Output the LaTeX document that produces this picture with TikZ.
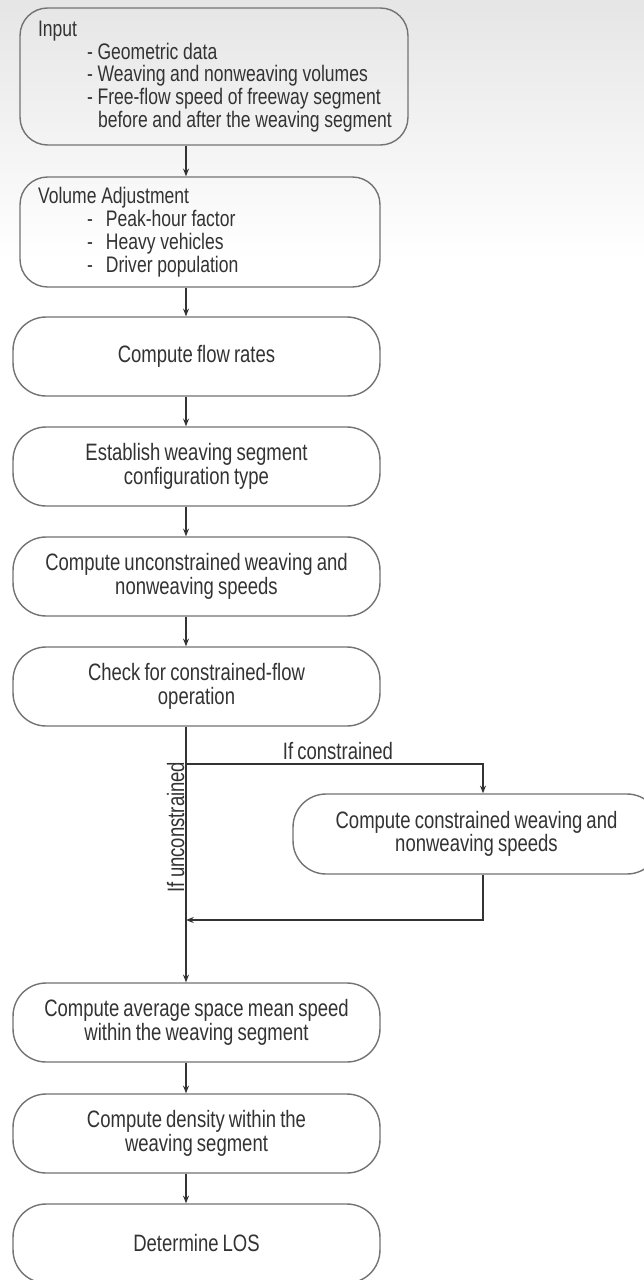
\documentclass[tikz,border=0pt]{standalone}
\usepackage{fontspec}
\setmainfont{Liberation Sans}[FakeStretch=0.78, WordSpace=0.8]
\usetikzlibrary{arrows.meta}

\tikzset{
  stage/.style={draw=black!55, line width=0.8pt, rounded corners=0.66cm,
    minimum width=7.34cm, minimum height=1.58cm, align=center,
    text=black!80, font=\fontsize{13.5}{13.4}\selectfont},
  listbox/.style={stage, rounded corners=0.55cm, align=left,
    font=\fontsize{12.8}{13}\selectfont,
    execute at begin node={\spaceskip=0.21em\relax}},
  link/.style={-{Stealth[length=4.4pt, width=3.4pt]}, color=black!80, line width=0.65pt},
  tag/.style={text=black!80, font=\fontsize{13.5}{13.4}\selectfont, inner sep=1pt}
}

\begin{document}
\begin{tikzpicture}[x=0.02cm, y=-0.02cm]
  % backdrop
  \useasboundingbox (0,0) rectangle (644,1280);
  \fill[white] (0,0) rectangle (644,1280);
  \shade[top color=black!10, bottom color=white] (0,0) rectangle (644,260);

  % steps
  \node[listbox, minimum width=7.76cm, minimum height=2.74cm, text width=7.04cm, inner xsep=0.36cm] (in) at (214,76.5)
  {\mbox{Input}\\
   \mbox{\hspace*{0.98cm}- Geometric data}\\
   \mbox{\hspace*{0.98cm}- Weaving and nonweaving volumes}\\
   \mbox{\hspace*{0.98cm}- Free-flow speed of freeway segment}\\
   \mbox{\hspace*{1.2cm}before and after the weaving segment}};
  \node[listbox, minimum width=7.2cm, minimum height=2.2cm, text width=6.48cm, inner xsep=0.36cm] (vol) at (200,232)
  {\mbox{Volume Adjustment}\\
   \mbox{\hspace*{0.98cm}-\hspace{0.26cm}Peak-hour factor}\\
   \mbox{\hspace*{0.98cm}-\hspace{0.26cm}Heavy vehicles}\\
   \mbox{\hspace*{0.98cm}-\hspace{0.26cm}Driver population}};
  \node[stage] (flow) at (196.5,356.5) {Compute flow rates};
  \node[stage] (cfg) at (196.5,466.5) {Establish weaving segment\\configuration type};
  \node[stage] (free) at (196.5,576.5) {Compute unconstrained weaving and\\nonweaving speeds};
  \node[stage] (chk) at (196.5,686.5) {Check for constrained-flow\\operation};
  \node[stage, minimum height=1.6cm] (con) at (476.5,834) {Compute constrained weaving and\\nonweaving speeds};
  \node[stage] (avg) at (196.5,1022.5) {Compute average space mean speed\\within the weaving segment};
  \node[stage] (dens) at (196.5,1133.5) {Compute density within the\\weaving segment};
  \node[stage] (los) at (196.5,1243.5) {Determine LOS};

  % routing points
  \coordinate (spine) at (186,0);
  \coordinate (split) at (186,764);
  \coordinate (join) at (186,920);
  \coordinate (fork) at (483,764);
  \coordinate (merge) at (483,920);

  \path[link]
  (in.south -| spine) edge (vol.north -| spine)
  (vol.south -| spine) edge (flow.north -| spine)
  (flow.south -| spine) edge (cfg.north -| spine)
  (cfg.south -| spine) edge (free.north -| spine)
  (free.south -| spine) edge (chk.north -| spine)
  (chk.south -| spine) edge (avg.north -| spine)
  (avg.south -| spine) edge (dens.north -| spine)
  (dens.south -| spine) edge (los.north -| spine);
  \draw[link] (split) -- (fork) -- (con.north -| fork);
  \draw[link] (con.south -| fork) -- (merge) -- (join);

  \node[tag, anchor=base] (clab) at (338,759) {If constrained};
  \node[tag, rotate=90, anchor=base] (ulab) at (184,827) {If unconstrained};
\end{tikzpicture}
\end{document}
